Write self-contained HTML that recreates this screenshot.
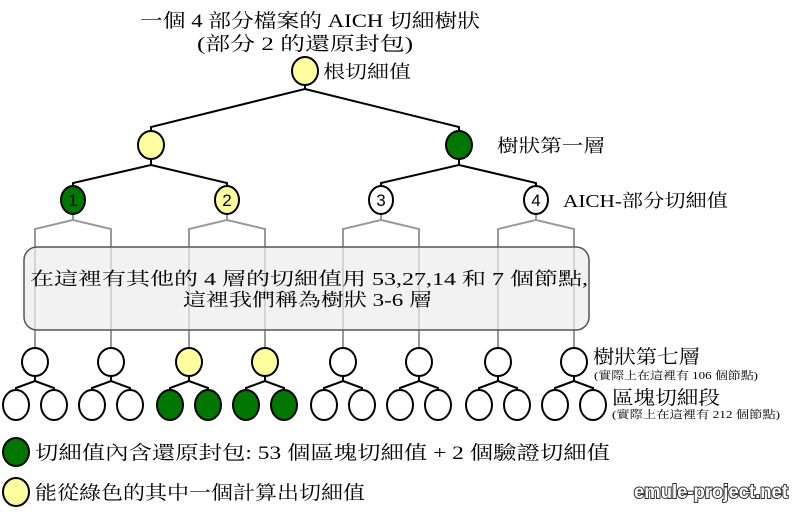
<!DOCTYPE html>
<html><head><meta charset="utf-8"><style>
html,body{margin:0;padding:0;background:#fff;width:800px;height:517px;overflow:hidden}
svg{display:block}
text{font-family:"Liberation Serif","Noto Serif CJK SC",serif;fill:#000}
</style></head><body>
<svg width="800" height="517" viewBox="0 0 800 517" xmlns="http://www.w3.org/2000/svg">
<text x="140" y="27" font-size="19" textLength="340" lengthAdjust="spacingAndGlyphs">一個 4 部分檔案的 AICH 切細樹狀</text>
<text x="197" y="50" font-size="19" textLength="216" lengthAdjust="spacingAndGlyphs">(部分 2 的還原封包)</text>

<g stroke="#000" stroke-width="2" fill="none">
<polyline points="305,84 305,89 151,127 151,131"/>
<polyline points="305,89 459,127 459,131"/>
<polyline points="151,159 151,165 73,183 73,186"/>
<polyline points="151,165 227,183 227,186"/>
<polyline points="459,159 459,165 381,183 381,186"/>
<polyline points="459,165 536,183 536,186"/>
</g>
<g stroke="#999" stroke-width="2" fill="none">
<polyline points="73,214 73,220 35,229 35,348"/><polyline points="73,220 111,229 111,348"/>
<polyline points="227,214 227,220 189,229 189,348"/><polyline points="227,220 265,229 265,348"/>
<polyline points="381,214 381,220 343,229 343,348"/><polyline points="381,220 419,229 419,348"/>
<polyline points="536,214 536,220 498,229 498,348"/><polyline points="536,220 574,229 574,348"/>
</g>
<g stroke="#000" stroke-width="2">
<ellipse cx="305" cy="71" rx="13" ry="14" fill="#ffffa0"/>
<ellipse cx="151" cy="145" rx="13" ry="14" fill="#ffffa0"/>
<ellipse cx="459" cy="145" rx="13" ry="14" fill="#007700"/>
<ellipse cx="73" cy="200" rx="12" ry="14" fill="#007700"/>
<ellipse cx="227" cy="200" rx="12" ry="14" fill="#ffffa0"/>
<ellipse cx="381" cy="200" rx="12" ry="14" fill="#fff"/>
<ellipse cx="536" cy="200" rx="12" ry="14" fill="#fff"/>
</g>
<g font-size="17" text-anchor="middle">
<text x="73" y="206" style="font-family:'Liberation Sans',sans-serif">1</text>
<text x="227" y="206" style="font-family:'Liberation Sans',sans-serif">2</text>
<text x="381" y="206" style="font-family:'Liberation Sans',sans-serif">3</text>
<text x="536" y="206" style="font-family:'Liberation Sans',sans-serif">4</text>
</g>
<text x="323" y="78" font-size="18" textLength="88" lengthAdjust="spacingAndGlyphs">根切細值</text>
<text x="497" y="152" font-size="18" textLength="108" lengthAdjust="spacingAndGlyphs">樹狀第一層</text>
<text x="563" y="207" font-size="18" textLength="165" lengthAdjust="spacingAndGlyphs">AICH-部分切細值</text>

<rect x="24" y="247" width="565" height="83" rx="13" ry="13" fill="#ececec" fill-opacity="0.7" stroke="#555" stroke-width="1.5"/>
<text x="30" y="285" font-size="18" textLength="558" lengthAdjust="spacingAndGlyphs">在這裡有其他的 4 層的切細值用 53,27,14 和 7 個節點,</text>
<text x="183" y="306" font-size="18" textLength="249" lengthAdjust="spacingAndGlyphs">這裡我們稱為樹狀 3-6 層</text>

<g stroke="#000" stroke-width="2" fill="none">
<polyline points="35,376 35,381 16,388 16,391"/><polyline points="35,381 54,388 54,391"/>
<polyline points="111,376 111,381 92,388 92,391"/><polyline points="111,381 130,388 130,391"/>
<polyline points="189,376 189,381 170,388 170,391"/><polyline points="189,381 208,388 208,391"/>
<polyline points="265,376 265,381 246,388 246,391"/><polyline points="265,381 284,388 284,391"/>
<polyline points="343,376 343,381 324,388 324,391"/><polyline points="343,381 362,388 362,391"/>
<polyline points="419,376 419,381 400,388 400,391"/><polyline points="419,381 438,388 438,391"/>
<polyline points="498,376 498,381 479,388 479,391"/><polyline points="498,381 517,388 517,391"/>
<polyline points="574,376 574,381 555,388 555,391"/><polyline points="574,381 593,388 593,391"/>
</g>
<g stroke="#000" stroke-width="2">
<ellipse cx="35" cy="362" rx="13" ry="14" fill="#fff"/>
<ellipse cx="111" cy="362" rx="13" ry="14" fill="#fff"/>
<ellipse cx="189" cy="362" rx="13" ry="14" fill="#ffffa0"/>
<ellipse cx="265" cy="362" rx="13" ry="14" fill="#ffffa0"/>
<ellipse cx="343" cy="362" rx="13" ry="14" fill="#fff"/>
<ellipse cx="419" cy="362" rx="13" ry="14" fill="#fff"/>
<ellipse cx="498" cy="362" rx="13" ry="14" fill="#fff"/>
<ellipse cx="574" cy="362" rx="13" ry="14" fill="#fff"/>
<g fill="#fff">
<ellipse cx="16" cy="405" rx="13" ry="15"/><ellipse cx="54" cy="405" rx="13" ry="15"/>
<ellipse cx="92" cy="405" rx="13" ry="15"/><ellipse cx="130" cy="405" rx="13" ry="15"/>
<ellipse cx="324" cy="405" rx="13" ry="15"/><ellipse cx="362" cy="405" rx="13" ry="15"/>
<ellipse cx="400" cy="405" rx="13" ry="15"/><ellipse cx="438" cy="405" rx="13" ry="15"/>
<ellipse cx="479" cy="405" rx="13" ry="15"/><ellipse cx="517" cy="405" rx="13" ry="15"/>
<ellipse cx="555" cy="405" rx="13" ry="15"/><ellipse cx="593" cy="405" rx="13" ry="15"/>
</g>
<g fill="#007700">
<ellipse cx="170" cy="405" rx="13" ry="15"/><ellipse cx="208" cy="405" rx="13" ry="15"/>
<ellipse cx="246" cy="405" rx="13" ry="15"/><ellipse cx="284" cy="405" rx="13" ry="15"/>
</g>
</g>
<text x="593" y="363" font-size="19" textLength="107" lengthAdjust="spacingAndGlyphs">樹狀第七層</text>
<text x="594" y="379" font-size="11" textLength="164" lengthAdjust="spacingAndGlyphs">(實際上在這裡有 106 個節點)</text>
<text x="612" y="404" font-size="19" textLength="108" lengthAdjust="spacingAndGlyphs">區塊切細段</text>
<text x="612" y="418" font-size="11" textLength="168" lengthAdjust="spacingAndGlyphs">(實際上在這裡有 212 個節點)</text>

<ellipse cx="16" cy="452" rx="13" ry="14" fill="#007700" stroke="#000" stroke-width="2"/>
<ellipse cx="16" cy="492" rx="13" ry="14" fill="#ffffa0" stroke="#000" stroke-width="2"/>
<text x="35" y="459" font-size="19" textLength="575" lengthAdjust="spacingAndGlyphs">切細值內含還原封包: 53 個區塊切細值 + 2 個驗證切細值</text>
<text x="35" y="499" font-size="19" textLength="330" lengthAdjust="spacingAndGlyphs">能從綠色的其中一個計算出切細值</text>
<text x="634" y="498" font-size="19" font-weight="bold" style="font-family:'Liberation Sans',sans-serif;fill:#fff;stroke:#333;stroke-width:2;paint-order:stroke" textLength="154" lengthAdjust="spacingAndGlyphs">emule-project.net</text>
</svg>
</body></html>
